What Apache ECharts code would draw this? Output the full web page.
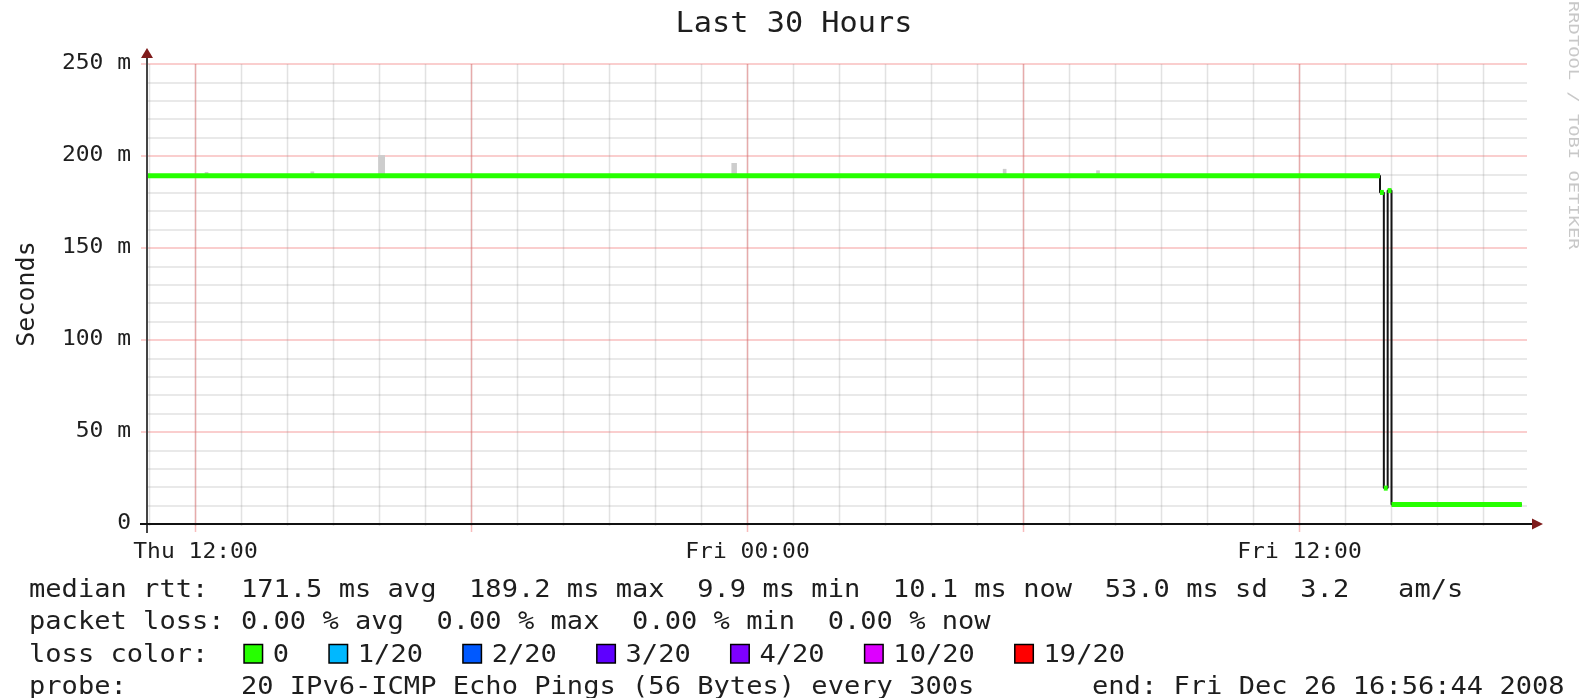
<!DOCTYPE html>
<html>
<head>
<meta charset="utf-8">
<script src="https://cdn.jsdelivr.net/npm/echarts@6/dist/echarts.min.js"></script>
<style>
html,body{margin:0;padding:0;background:#ffffff;}
#c{width:1586px;height:698px;}
</style>
</head>
<body>
<div id="c"></div>
<script>
// ---------------- data (x = hours since Thu 2008-12-25 00:00) ----------------
const startHour = 10 + 56 / 60 + 44 / 3600;   // Thu 10:56:44
const endHour = startHour + 30;              // Fri 16:56:44
const yMax = 250;                            // milliseconds

// median rtt, step function: value i holds from medianTimes[i] to medianTimes[i+1]
const medianTimes  = [startHour, 37.75, 37.8333, 37.9167, 38.0, 40.8333];
const medianValues = [189.2, 180.2, 19.5, 181.2, 10.6];

// grey "smoke" spikes above the median
const smokeStart = [12.20, 14.50, 15.97, 23.65, 29.55, 31.58];
const smokeEnd   = [12.28, 14.58, 16.12, 23.77, 29.63, 31.66];
const smokeTop   = [191.3, 191.6, 200.5, 196.2, 193.0, 192.2];
const smokeBase  = 189.2;

// grid / tick positions
const hourGridHours = [11,12,13,14,15,16,17,18,19,20,21,22,23,24,25,26,27,28,29,30,31,32,33,34,35,36,37,38,39,40];
const sixHourGridHours = [12, 18, 24, 30, 36];
const xLabelHours = [12, 24, 36];
const xLabelTexts = ['Thu 12:00', 'Fri 00:00', 'Fri 12:00'];
const yLabelValues = [0, 50, 100, 150, 200, 250];
const yLabelTexts = ['0', '50 m', '100 m', '150 m', '200 m', '250 m'];

// texts
const titleText = 'Last 30 Hours';
const yAxisName = 'Seconds';
const legendRow1 = 'median rtt:  171.5 ms avg  189.2 ms max  9.9 ms min  10.1 ms now  53.0 ms sd  3.2   am/s';
const legendRow2 = 'packet loss: 0.00 % avg  0.00 % max  0.00 % min  0.00 % now';
const legendRow3Head = 'loss color:';
const lossLabels = ['0', '1/20', '2/20', '3/20', '4/20', '10/20', '19/20'];
const lossColors = ['#26ff00', '#00b8ff', '#0059ff', '#5e00ff', '#7e00ff', '#dd00ff', '#ff0000'];
const legendRow4 = 'probe:       20 IPv6-ICMP Echo Pings (56 Bytes) every 300s';
const endText = 'end: Fri Dec 26 16:56:44 2008';
const watermark = 'RRDTOOL / TOBI OETIKER';

// ---------------- styles ----------------
const FONT = '"DejaVu Sans Mono", "Liberation Mono", monospace';
const RED = 'rgba(238, 90, 90, 0.40)';
const GREY = 'rgba(150, 150, 150, 0.28)';
const TXT = '#1e1e1e';
const AX_FS = 20.5, AX_SX = 1.12;

const chart = echarts.init(document.getElementById('c'), null, {renderer: 'canvas'});

const greenSegments = medianValues.map((v, i) => [medianTimes[i], medianTimes[i + 1], v]);
const blackStep = medianValues.map((v, i) => [medianTimes[i], v]);
blackStep.push([medianTimes[medianTimes.length - 1], medianValues[medianValues.length - 1]]);
const smokeData = smokeStart.map((s, i) => [s, smokeEnd[i], smokeTop[i]]);

function vLine(color, width, ext) {
  return function (params, api) {
    const h = api.value(0);
    const p0 = api.coord([h, 0]);
    const p1 = api.coord([h, yMax]);
    return {
      type: 'line',
      shape: {x1: p0[0], y1: p0[1] + ext, x2: p1[0], y2: p1[1]},
      style: {stroke: color, lineWidth: width}
    };
  };
}

function labelEl(text, x, y, align) {
  return {
    type: 'text', x: x, y: y, scaleX: AX_SX,
    style: {text: text, x: 0, y: 0, font: AX_FS + 'px ' + FONT, fill: TXT,
            align: align, textAlign: align, verticalAlign: 'middle', textVerticalAlign: 'middle'}
  };
}

const option = {
  animation: false,
  backgroundColor: '#ffffff',
  grid: {left: 147, right: 59, top: 64, bottom: 174, containLabel: false},
  xAxis: {
    type: 'value', min: startHour, max: endHour,
    axisLine: {show: false}, axisTick: {show: false}, splitLine: {show: false},
    axisLabel: {show: false}
  },
  yAxis: {
    type: 'value', min: 0, max: yMax, interval: 50,
    name: yAxisName, nameLocation: 'middle', nameRotate: 90, nameGap: 107,
    nameTextStyle: {fontFamily: FONT, fontSize: 25, color: TXT},
    axisLine: {show: false},
    axisTick: {show: true, length: 6, lineStyle: {color: RED, width: 1.5}},
    axisLabel: {show: false},
    splitLine: {show: true, lineStyle: {color: RED, width: 1.5}},
    minorTick: {show: false, splitNumber: 5},
    minorSplitLine: {show: true, lineStyle: {color: GREY, width: 1.5}}
  },
  series: [
    {type: 'custom', name: 'hourGrid', z: 1, silent: true, clip: false,
     data: hourGridHours.map(h => [h, 0]), renderItem: vLine(GREY, 1.5, 2)},
    {type: 'custom', name: 'sixHourGrid', z: 1, silent: true, clip: false,
     data: sixHourGridHours.map(h => [h, 0]), renderItem: vLine(RED, 1.5, 8)},
    {type: 'custom', name: 'xLabels', z: 5, silent: true, clip: false,
     data: xLabelHours.map((h, i) => [h, 0, i]),
     renderItem: function (params, api) {
       const p = api.coord([api.value(0), 0]);
       return labelEl(xLabelTexts[api.value(2)], p[0], p[1] + 29, 'center');
     }},
    {type: 'custom', name: 'yLabels', z: 5, silent: true, clip: false,
     data: yLabelValues.map((v, i) => [startHour, v, i]),
     renderItem: function (params, api) {
       const p = api.coord([startHour, api.value(1)]);
       return labelEl(yLabelTexts[api.value(2)], p[0] - 16, p[1], 'right');
     }},
    {type: 'custom', name: 'smoke', z: 2, silent: true,
     data: smokeData,
     renderItem: function (params, api) {
       const a = api.coord([api.value(0), api.value(2)]);
       const b = api.coord([api.value(1), smokeBase]);
       return {type: 'rect', shape: {x: a[0], y: a[1], width: b[0] - a[0], height: b[1] - a[1]},
               style: {fill: '#cdcdcd'}};
     }},
    {type: 'line', name: 'medianStep', z: 3, step: 'end', symbol: 'none', silent: true,
     data: blackStep, lineStyle: {color: '#151515', width: 2}},
    {type: 'custom', name: 'median', z: 4, silent: true,
     data: greenSegments,
     renderItem: function (params, api) {
       const a = api.coord([api.value(0), api.value(2)]);
       const b = api.coord([api.value(1), api.value(2)]);
       return {type: 'line', shape: {x1: a[0], y1: a[1], x2: b[0], y2: b[1]},
               style: {stroke: lossColors[0], lineWidth: 5, lineCap: 'butt'}};
     }}
  ]
};
chart.setOption(option);

// ---------------- axes, arrows and text blocks ----------------
const o = chart.convertToPixel({gridIndex: 0}, [startHour, 0]);
const yTop = chart.convertToPixel({gridIndex: 0}, [startHour, yMax]);
const xRight = chart.convertToPixel({gridIndex: 0}, [endHour, 0]);
const ARROW = '#7f1c1c';

function txt(text, x, y, size, opts) {
  opts = opts || {};
  return {
    type: 'text', x: x, y: y, z: 100,
    scaleX: opts.scaleX || 1, rotation: opts.rotation || 0,
    style: {
      text: text, x: 0, y: 0,
      font: size + 'px ' + FONT,
      fill: opts.fill || TXT,
      align: opts.align || 'left', textAlign: opts.align || 'left',
      verticalAlign: 'middle', textVerticalAlign: 'middle'
    }
  };
}

const G = [];
G.push({type: 'line', z: 90, shape: {x1: o[0], y1: o[1] + 9, x2: o[0], y2: yTop[1] - 7},
        style: {stroke: '#444', lineWidth: 2}});
G.push({type: 'line', z: 90, shape: {x1: o[0] - 7, y1: o[1], x2: xRight[0] + 6, y2: o[1]},
        style: {stroke: '#111', lineWidth: 2}});
G.push({type: 'polygon', z: 91, shape: {points: [[o[0] - 6, yTop[1] - 6], [o[0] + 6, yTop[1] - 6], [o[0], yTop[1] - 16]]},
        style: {fill: ARROW}});
G.push({type: 'polygon', z: 91, shape: {points: [[xRight[0] + 5, o[1] - 5.5], [xRight[0] + 5, o[1] + 5.5], [xRight[0] + 16, o[1]]]},
        style: {fill: ARROW}});

G.push(txt(titleText, 794, 25, 27.5, {align: 'center', scaleX: 1.1}));
G.push(txt(watermark, 1573, 1, 14, {rotation: -Math.PI / 2, scaleX: 1.34, fill: '#c8c8c8'}));

const LS = 24, LSX = 1.128, L0 = 29;
G.push(txt(legendRow1, L0, 591, LS, {scaleX: LSX}));
G.push(txt(legendRow2, L0, 623.2, LS, {scaleX: LSX}));
G.push(txt(legendRow3Head, L0, 655.4, LS, {scaleX: LSX}));
G.push(txt(legendRow4, L0, 687.6, LS, {scaleX: LSX}));
G.push(txt(endText, 1092, 687.6, LS, {scaleX: LSX}));

let bx = 243.3;
const charW = LS * 0.602 * LSX;
lossLabels.forEach(function (lab, i) {
  G.push({type: 'rect', z: 100, shape: {x: bx + 0.75, y: 644.5, width: 18.5, height: 18.5},
          style: {fill: lossColors[i], stroke: '#000', lineWidth: 1.5}});
  G.push(txt(lab, bx + 29.5, 655.4, LS, {scaleX: LSX}));
  bx += 31.7 + lab.length * charW + 37;
});

chart.setOption({graphic: G});
</script>
</body>
</html>
